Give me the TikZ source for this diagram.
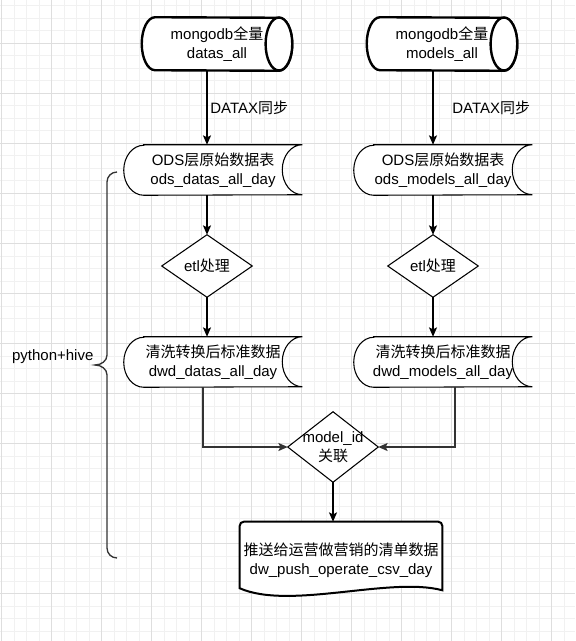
\documentclass[tikz,border=0pt]{standalone}
\usepackage{fontspec}
\setmainfont{Liberation Sans}
\newfontfamily\cjk{Noto Sans CJK SC}
\usetikzlibrary{arrows.meta,calc}
\definecolor{gridminor}{RGB}{241,241,241}
\definecolor{gridmajor}{RGB}{222,222,222}
\definecolor{edgegray}{RGB}{51,51,51}
\pgfdeclarelayer{grid}
\pgfdeclarelayer{shape}
\pgfsetlayers{grid,shape,main}

\begin{document}
\begin{tikzpicture}[x=0.75pt,y=-0.75pt,
  font=\fontsize{11.25}{14}\selectfont,
  box/.style={draw=none,inner sep=0pt,align=center},
  cyl/.style={box,minimum width=112.5pt,minimum height=39.75pt},
  ods/.style={box,minimum width=133.5pt,minimum height=37.5pt},
  dia/.style={box,minimum width=67.5pt,minimum height=46.5pt},
  outline/.style={draw=black,fill=white,line width=0.8pt},
  arr/.style={line width=1pt,-{Stealth[length=7pt,width=6pt,inset=1.5pt]}}]
  \useasboundingbox (0,0) rectangle (575,641);

  \node[cyl] (mg1) at (217,44) {mongodb{\cjk 全量}\\datas\_all};
  \node[cyl] (mg2) at (442,44) {mongodb{\cjk 全量}\\models\_all};
  \node[ods] (ods1) at (213,170) {ODS{\cjk 层原始数据表}\\ods\_datas\_all\_day};
  \node[ods] (ods2) at (443,170) {ODS{\cjk 层原始数据表}\\ods\_models\_all\_day};
  \node[dia] (etl1) at (207,266) {etl{\cjk 处理}};
  \node[dia] (etl2) at (433,266) {etl{\cjk 处理}};
  \node[ods] (dwd1) at (213,362) {{\cjk 清洗转换后标准数据}\\dwd\_datas\_all\_day};
  \node[ods] (dwd2) at (443,362) {{\cjk 清洗转换后标准数据}\\dwd\_models\_all\_day};
  \node[box,minimum width=67.5pt,minimum height=52.5pt] (join) at (333,447) {model\_id\\{\cjk 关联}};
  \node[box,minimum width=151.5pt,minimum height=57pt] (push) at (341,560)
    {{\cjk 推送给运营做营销的清单数据}\\dw\_push\_operate\_csv\_day};
  \node[anchor=east,inner sep=1pt] (tool) at (95,357) {python+hive};

  \begin{pgfonlayer}{grid}
    \fill[white] (0,0) rectangle (575,641);
    \foreach \i in {0,...,46}{
      \draw[gridminor,line width=0.75pt] (1.5+12.5*\i,0) -- ++(0,641);
    }
    \foreach \j in {0,...,51}{
      \draw[gridminor,line width=0.75pt] (0,6+12.5*\j) -- ++(575,0);
    }
    \foreach \i in {0,...,11}{
      \draw[gridmajor,line width=1.2pt] (1.5+50*\i,0) -- ++(0,641);
    }
    \foreach \j in {0,...,13}{
      \draw[gridmajor,line width=1.2pt] (0,-6.5+50*\j) -- ++(575,0);
    }
  \end{pgfonlayer}

  \begin{pgfonlayer}{shape}
    \foreach \n in {mg1,mg2}{
      \draw[outline,line width=1.8pt] ([xshift=10pt]\n.north west)
        arc[start angle=90,end angle=270,x radius=10pt,y radius=19.875pt]
        -- ([xshift=-10pt]\n.south east)
        arc[start angle=-90,end angle=90,x radius=10pt,y radius=19.875pt] -- cycle;
      \draw[outline,line width=1.8pt] ([xshift=-10pt]\n.east) ellipse[x radius=10pt,y radius=19.875pt];
    }
    \foreach \n in {ods1,ods2,dwd1,dwd2}{
      \draw[outline] ([xshift=15pt]\n.north west) -- (\n.north east)
        arc[start angle=90,end angle=270,x radius=15pt,y radius=18.75pt]
        -- ([xshift=15pt]\n.south west)
        arc[start angle=270,end angle=90,x radius=15pt,y radius=18.75pt] -- cycle;
    }
    \foreach \n in {etl1,etl2,join}{
      \draw[outline] (\n.north) -- (\n.east) -- (\n.south) -- (\n.west) -- cycle;
    }
    \draw[outline,line width=1.5pt] ([yshift=7.5pt]push.south west) -- ([yshift=-3pt]push.north west)
      arc[start angle=180,end angle=90,radius=3pt] -- ([xshift=-3pt]push.north east)
      arc[start angle=90,end angle=0,radius=3pt] -- ([yshift=6pt]push.south east)
      .. controls ([xshift=-39pt,yshift=16.5pt]push.south east)
      and ([xshift=37.5pt,yshift=-9pt]push.south west) .. ([yshift=7.5pt]push.south west) -- cycle;
  \end{pgfonlayer}

  \foreach \i/\gap in {1/2pt,2/14pt}{
    \draw[arr] (mg\i.south -| etl\i.north) -- node[right,inner sep=\gap] {DATAX{\cjk 同步}} (ods\i.north -| etl\i.north);
    \draw[arr] (ods\i.south -| etl\i.north) -- (etl\i.north);
    \draw[arr] (etl\i.south) -- (dwd\i.north -| etl\i.south);
  }
  \draw[arr,edgegray] ([xshift=-3pt]dwd1.south -| etl1.south) |- (join.west);
  \draw[arr,edgegray] ([xshift=9pt]dwd2.south) |- (join.east);
  \draw[arr] (join.south) -- (push.north -| join.south);

  \draw[edgegray,line width=1pt] (117,172) to[out=180,in=90] (107,182) -- (107,355)
    to[out=270,in=0] (95,365) to[out=0,in=90] (107,375) -- (107,548)
    to[out=270,in=180] (117,558);
\end{tikzpicture}
\end{document}
